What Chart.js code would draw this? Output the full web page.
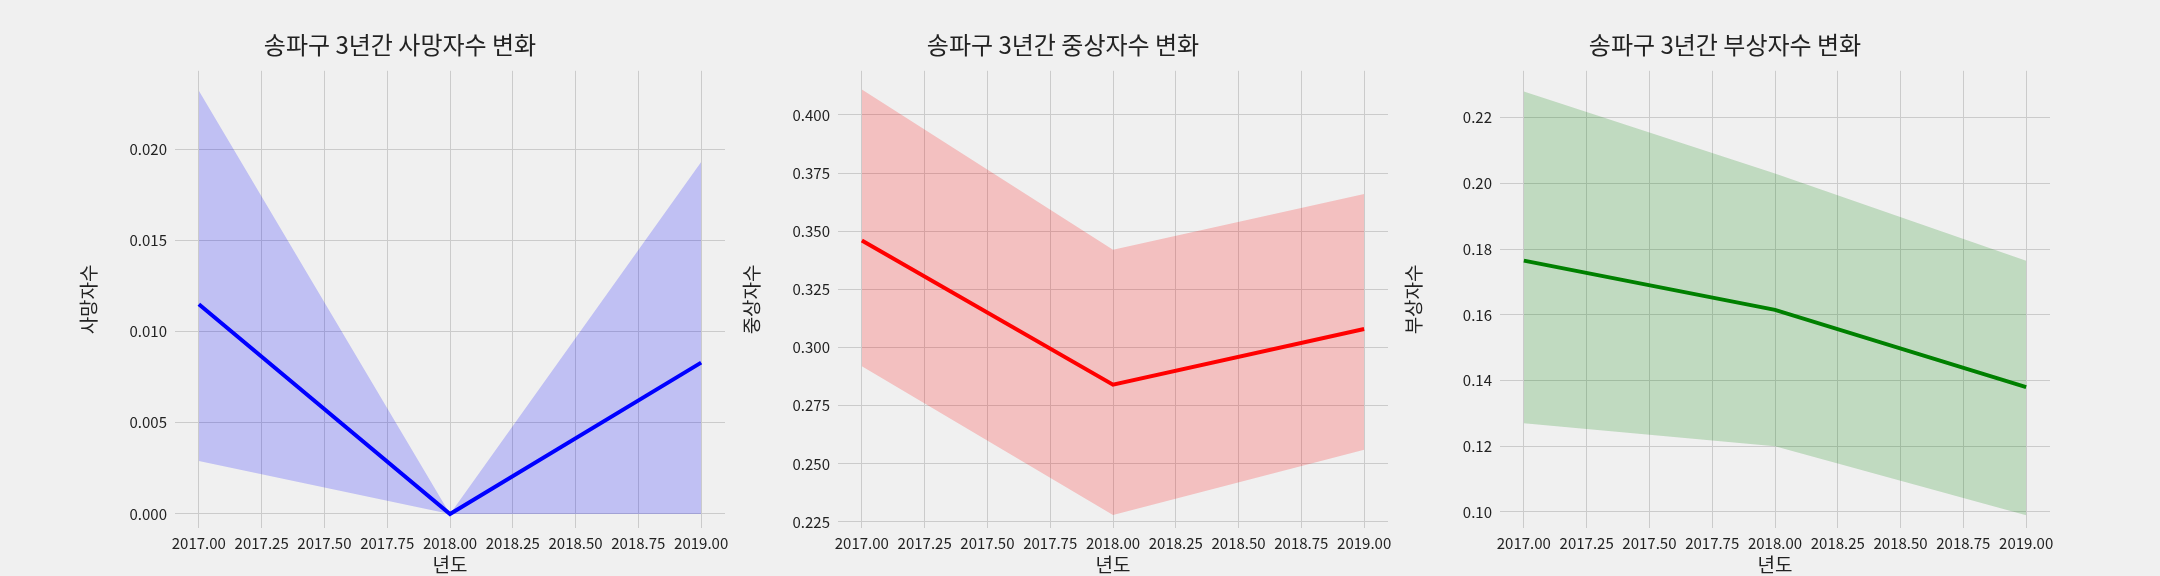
<!DOCTYPE html>
<html>
<head>
<meta charset="utf-8">
<script src="https://cdn.jsdelivr.net/npm/chart.js@4"></script>
<style>
  body { margin: 0; background: #f0f0f0; width: 2160px; height: 576px; position: relative; overflow: hidden; }
  .panel { position: absolute; top: 0; width: 670px; height: 576px; }
</style>
</head>
<body>
<div class="panel" style="left:75px"><canvas id="c1"></canvas></div>
<div class="panel" style="left:738px"><canvas id="c2"></canvas></div>
<div class="panel" style="left:1400px"><canvas id="c3"></canvas></div>
<script>
const years = [2017, 2018, 2019];
const xTicks = [2017, 2017.25, 2017.5, 2017.75, 2018, 2018.25, 2018.5, 2018.75, 2019];

const deathMean = [0.0115, 0.0, 0.0083];
const deathLow = [0.0029, 0.0, 0.0];
const deathHigh = [0.0232, 0.0, 0.0193];
const deathTicks = [0, 0.005, 0.010, 0.015, 0.020];

const seriousMean = [0.346, 0.284, 0.308];
const seriousLow = [0.292, 0.228, 0.256];
const seriousHigh = [0.411, 0.342, 0.366];
const seriousTicks = [0.225, 0.250, 0.275, 0.300, 0.325, 0.350, 0.375, 0.400];

const minorMean = [0.1765, 0.1615, 0.138];
const minorLow = [0.127, 0.120, 0.099];
const minorHigh = [0.228, 0.203, 0.1765];
const minorTicks = [0.10, 0.12, 0.14, 0.16, 0.18, 0.20, 0.22];

const font = "'Noto Sans CJK KR', 'Noto Sans', sans-serif";
Chart.defaults.font.family = font;
Chart.defaults.color = '#222';

function pts(arr) { return years.map((y, i) => ({ x: y, y: arr[i] })); }

function makeChart(id, title, ylabel, mean, low, high, yTicks, ymin, ymax, digits, line, fill) {
  new Chart(document.getElementById(id), {
    type: 'line',
    data: {
      datasets: [
        { data: pts(low), borderWidth: 0, pointRadius: 0, fill: false },
        { data: pts(high), borderWidth: 0, pointRadius: 0, fill: '-1', backgroundColor: fill },
        { data: pts(mean), borderColor: line, borderWidth: 4, pointRadius: 0, fill: false }
      ]
    },
    options: {
      responsive: true,
      maintainAspectRatio: false,
      animation: false,
      layout: { padding: { right: 20 } },
      plugins: {
        legend: { display: false },
        tooltip: { enabled: false },
        title: { display: true, text: title, font: { size: 24, weight: 'normal' }, color: '#222', padding: { top: 30, bottom: 12 } }
      },
      scales: {
        x: {
          type: 'linear', min: 2016.905, max: 2019.095,
          afterBuildTicks: s => { s.ticks = xTicks.map(v => ({ value: v })); },
          afterFit: s => { s.height = 48; },
          ticks: { callback: v => v.toFixed(2), font: { size: 15 }, maxRotation: 0, padding: 6 },
          grid: { color: '#cbcbcb', lineWidth: 1, drawTicks: false },
          border: { display: false },
          title: { display: true, text: '년도', font: { size: 19 }, padding: 0 }
        },
        y: {
          min: ymin, max: ymax,
          afterBuildTicks: s => { s.ticks = yTicks.map(v => ({ value: v })); },
          afterFit: s => { s.width = 100; },
          ticks: { callback: v => v.toFixed(digits), font: { size: 15 }, padding: 8 },
          grid: { color: '#cbcbcb', lineWidth: 1, drawTicks: false },
          border: { display: false },
          title: { display: true, text: ylabel, font: { size: 19 }, padding: 2 }
        }
      }
    }
  });
}

makeChart('c1', '송파구 3년간 사망자수 변화', '사망자수', deathMean, deathLow, deathHigh, deathTicks, -0.00077, 0.0243, 3, '#0000ff', 'rgba(0,0,255,0.2)');
makeChart('c2', '송파구 3년간 중상자수 변화', '중상자수', seriousMean, seriousLow, seriousHigh, seriousTicks, 0.2224, 0.419, 3, '#ff0000', 'rgba(255,0,0,0.2)');
makeChart('c3', '송파구 3년간 부상자수 변화', '부상자수', minorMean, minorLow, minorHigh, minorTicks, 0.0951, 0.2343, 2, '#008000', 'rgba(0,128,0,0.2)');
</script>
</body>
</html>
